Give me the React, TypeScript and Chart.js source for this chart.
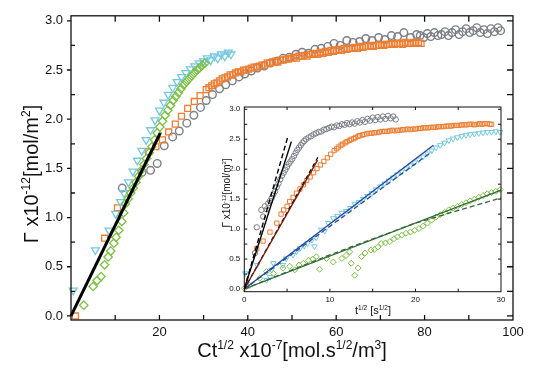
import React, { useEffect, useRef } from 'react';
import { Chart, registerables } from 'chart.js';
Chart.register(...registerables);

const FONT = '"Liberation Sans", Arial, Helvetica, sans-serif';

// ---------- tick labels ----------
const mainXTicks = [20, 40, 60, 80, 100];
const mainYTicks = [0, 0.5, 1, 1.5, 2, 2.5, 3];
const insetXTicks = [0, 10, 20, 30];
const insetYTicks = [0, 0.5, 1, 1.5, 2, 2.5, 3];

// frame tick marks
const mainBottomMarks = [10, 20, 30, 40, 50, 60, 70, 80, 90];
const mainTopMarks = [10, 20, 30, 40, 50, 60, 70, 80, 90];
const mainLeftMajor = [0, 0.5, 1, 1.5, 2, 2.5, 3];
const mainLeftMinor = [0.25, 0.75, 1.25, 1.75, 2.25, 2.75];
const mainRightMarks = [0, 0.25, 0.5, 0.75, 1, 1.25, 1.5, 1.75, 2, 2.25, 2.5, 2.75, 3];
const insetXMarks = [5, 10, 15, 20, 25];
const insetYMarks = [0.25, 0.5, 0.75, 1, 1.25, 1.5, 1.75, 2, 2.25, 2.5, 2.75, 3];

// ---------- main chart data: Ct^1/2 x1e-7 vs Gamma ----------
const mainGray = [
  [11.6,1.30],[16.1,1.46],[18.0,1.48],[19.5,1.55],[21.1,1.73],[23.0,1.82],[24.5,1.88],[26.2,1.96],[27.8,2.04],[29.3,2.12],
  [30.6,2.19],[32.0,2.25],[33.6,2.31],[35.0,2.35],[36.5,2.39],[38.0,2.43],[39.3,2.46],[40.8,2.49],[42.2,2.52],[43.7,2.54],
  [45.1,2.57],[46.6,2.59],[48.0,2.62],[49.4,2.63],[50.9,2.66],[52.3,2.68],[53.7,2.67],[55.2,2.71],[56.6,2.72],[58.1,2.74],
  [59.5,2.77],[60.9,2.75],[62.4,2.80],[63.8,2.78],[65.3,2.79],[66.7,2.82],[68.1,2.80],[69.6,2.83],[71.0,2.81],[72.5,2.85],
  [73.9,2.84],[75.3,2.88],[76.8,2.83],[78.2,2.86],[79.0,2.85],[79.8,2.83],[80.6,2.87],[81.4,2.84],[82.2,2.88],[83.0,2.85],
  [83.8,2.86],[84.6,2.89],[85.4,2.85],[86.2,2.88],[87.0,2.91],[87.8,2.86],[88.6,2.89],[89.4,2.92],[90.2,2.88],[91.0,2.90],
  [91.8,2.93],[92.6,2.88],[93.4,2.91],[94.2,2.87],[95.0,2.92],[95.8,2.89],[96.6,2.93],[97.2,2.90]
];
const mainOrange = [
  [1.0,0.00],[7.6,0.79],[10.5,1.10],[17.6,1.67],[19.2,1.72],[20.7,1.79],[22.1,1.87],[23.6,1.95],[25.0,2.03],[26.4,2.11],
  [27.9,2.18],[29.2,2.24],[30.6,2.30],[31.2,2.32],[31.8,2.34],[32.4,2.36],[33.0,2.37],[33.6,2.39],[34.2,2.41],[34.8,2.42],
  [35.4,2.43],[36.0,2.45],[36.6,2.45],[37.2,2.47],[37.8,2.48],[38.4,2.48],[39.0,2.50],[39.6,2.50],[40.2,2.51],[40.8,2.52],
  [41.4,2.53],[42.0,2.53],[42.6,2.54],[43.2,2.55],[43.8,2.55],[44.4,2.57],[45.0,2.57],[45.6,2.58],[46.2,2.59],[46.8,2.58],
  [47.4,2.60],[48.0,2.60],[48.6,2.61],[49.2,2.61],[49.8,2.62],[50.4,2.63],[51.0,2.62],[51.6,2.64],[52.2,2.64],[52.8,2.65],
  [53.4,2.64],[54.0,2.66],[54.6,2.66],[55.2,2.67],[55.8,2.66],[56.4,2.68],[57.0,2.67],[57.6,2.69],[58.2,2.68],[58.8,2.70],
  [59.4,2.69],[60.0,2.70],[60.6,2.71],[61.2,2.70],[61.8,2.72],[62.4,2.71],[63.0,2.72],[63.6,2.72],[64.2,2.73],[64.8,2.72],
  [65.4,2.74],[66.0,2.73],[66.6,2.74],[67.2,2.74],[67.8,2.75],[68.4,2.74],[69.0,2.75],[69.6,2.75],[70.2,2.76],[70.8,2.75],
  [71.4,2.76],[72.0,2.76],[72.6,2.77],[73.2,2.76],[73.8,2.77],[74.4,2.77],[75.0,2.76],[75.6,2.78],[76.2,2.77],[76.8,2.77],
  [77.4,2.78],[78.0,2.77],[78.6,2.78],[79.2,2.77]
];
const mainCyan = [
  [0.5,0.26],[5.5,0.67],[8.6,0.87],[10.1,1.04],[11.2,1.16],[12.0,1.25],[13.0,1.36],[14.0,1.47],[15.0,1.58],[16.0,1.68],
  [17.0,1.79],[18.0,1.89],[19.0,1.99],[20.0,2.09],[21.0,2.17],[22.0,2.25],[23.0,2.32],[24.0,2.38],[25.0,2.43],[26.0,2.47],
  [27.0,2.51],[28.0,2.54],[29.0,2.57],[30.0,2.59],[30.8,2.62],[31.6,2.60],[32.4,2.64],[33.2,2.62],[34.0,2.66],[34.8,2.64],
  [35.6,2.68],[36.2,2.66]
];
const mainGreen = [
  [2.9,0.11],[5.0,0.30],[5.9,0.36],[6.8,0.40],[7.6,0.52],[8.4,0.60],[9.0,0.66],[9.7,0.74],[10.2,0.80],[10.8,0.87],
  [11.5,0.96],[11.9,1.05],[12.3,1.14],[12.9,1.19],[13.5,1.25],[14.1,1.30],[14.7,1.36],[15.3,1.42],[15.9,1.48],[16.5,1.54],
  [17.1,1.60],[17.7,1.66],[18.3,1.72],[18.9,1.79],[19.5,1.86],[20.1,1.92],[20.7,1.98],[21.3,2.04],[21.9,2.09],[22.5,2.14],
  [23.1,2.19],[23.7,2.23],[24.3,2.27],[24.9,2.31],[25.5,2.35],[26.1,2.38],[26.7,2.41],[27.3,2.44],[27.9,2.47],[28.5,2.50],
  [29.1,2.52],[29.7,2.55],[30.3,2.57]
];
const mainFit = [[0, 0], [20.2, 1.86]];

// ---------- inset data: t^1/2 vs Gamma ----------
const insetGray = [
  [1.25,0.60],[1.45,1.03],[2.0,1.32],[2.2,1.21],[2.4,1.38],[2.6,1.33],[2.8,1.43],[3.0,1.47],[3.2,1.52],[3.4,1.58],
  [3.6,1.63],[3.8,1.70],[4.0,1.76],[4.2,1.83],[4.4,1.89],[4.6,1.94],[4.8,1.99],[5.0,2.04],[5.2,2.09],[5.4,2.13],
  [5.6,2.17],[5.8,2.22],[6.0,2.27],[6.2,2.32],[6.4,2.36],[6.6,2.40],[6.8,2.44],[7.0,2.47],[7.2,2.50],[7.5,2.53],
  [7.8,2.55],[8.1,2.58],[8.4,2.60],[8.7,2.62],[9.0,2.63],[9.3,2.66],[9.6,2.67],[9.9,2.69],[10.2,2.71],[10.5,2.70],
  [10.8,2.73],[11.1,2.72],[11.4,2.75],[11.7,2.74],[12.0,2.77],[12.3,2.75],[12.6,2.78],[12.9,2.76],[13.2,2.80],[13.5,2.78],
  [13.8,2.82],[14.1,2.79],[14.4,2.84],[14.7,2.81],[15.0,2.86],[15.3,2.82],[15.6,2.87],[15.9,2.83],[16.2,2.88],[16.5,2.84],
  [16.8,2.89],[17.1,2.85],[17.4,2.88],[17.7,2.83]
];
const insetOrange = [
  [0.3,0.05],[1.45,0.67],[2.2,0.80],[3.0,0.95],[3.8,1.10],[4.3,1.25],[4.6,1.32],[5.0,1.38],[5.3,1.46],[5.7,1.53],
  [6.1,1.60],[6.5,1.67],[6.9,1.74],[7.3,1.81],[7.7,1.87],[8.1,1.94],[8.5,2.01],[8.9,2.07],[9.3,2.13],[9.7,2.19],
  [10.1,2.25],[10.5,2.31],[10.8,2.34],[11.0,2.37],[11.3,2.40],[11.5,2.42],[11.8,2.44],[12.0,2.46],[12.3,2.48],[12.5,2.50],
  [12.8,2.51],[13.0,2.53],[13.3,2.55],[13.5,2.56],[13.8,2.57],[14.0,2.58],[14.3,2.59],[14.6,2.60],[14.9,2.60],[15.2,2.61],
  [15.5,2.61],[15.8,2.62],[16.1,2.63],[16.4,2.63],[16.7,2.63],[17.0,2.64],[17.3,2.65],[17.6,2.64],[17.9,2.65],[18.2,2.65],
  [18.5,2.66],[18.8,2.66],[19.1,2.67],[19.4,2.66],[19.7,2.67],[20.0,2.67],[20.3,2.68],[20.6,2.68],[20.9,2.69],[21.2,2.69],
  [21.5,2.69],[21.8,2.70],[22.1,2.70],[22.4,2.70],[22.7,2.71],[23.0,2.71],[23.3,2.71],[23.6,2.72],[23.9,2.72],[24.2,2.72],
  [24.5,2.73],[24.8,2.73],[25.1,2.73],[25.4,2.74],[25.7,2.74],[26.0,2.74],[26.3,2.75],[26.6,2.75],[26.9,2.74],[27.2,2.75],
  [27.5,2.76],[27.8,2.75],[28.1,2.76],[28.4,2.76],[28.7,2.75],[28.9,2.75]
];
const insetCyan = [
  [0.1,0.26],[1.5,0.40],[2.6,0.15],[3.0,0.20],[3.2,0.32],[3.4,0.43],[4.5,0.40],[4.9,0.51],[5.7,0.57],[6.1,0.63],
  [6.5,0.68],[7.0,0.72],[7.4,0.76],[7.9,0.82],[8.2,0.71],[8.4,0.86],[9.0,0.99],[9.4,0.97],[9.8,1.10],[10.4,1.18],
  [10.9,1.22],[11.4,1.27],[11.9,1.30],[12.4,1.35],[12.9,1.42],[13.4,1.45],[13.9,1.50],[14.4,1.55],[14.9,1.60],[15.4,1.66],
  [15.9,1.71],[16.4,1.76],[16.9,1.81],[17.4,1.86],[17.9,1.91],[18.4,1.96],[18.9,2.01],[19.4,2.06],[19.9,2.11],[20.4,2.16],
  [20.9,2.21],[21.4,2.26],[21.9,2.31],[22.4,2.36],[22.9,2.40],[23.4,2.44],[23.9,2.48],[24.4,2.51],[24.9,2.53],[25.4,2.55],
  [25.9,2.57],[26.4,2.58],[26.9,2.59],[27.4,2.60],[27.9,2.61],[28.4,2.62],[28.9,2.62],[29.4,2.63],[29.9,2.62]
];
const insetGreen = [
  [0.0,0.01],[0.6,0.06],[1.8,0.18],[2.6,0.29],[3.4,0.26],[4.5,0.35],[5.3,0.38],[5.9,0.32],[6.4,0.40],[6.9,0.43],
  [7.5,0.48],[8.0,0.50],[8.4,0.54],[8.8,0.33],[9.6,0.51],[10.4,0.45],[11.4,0.51],[11.9,0.56],[12.3,0.62],[12.5,0.43],
  [12.9,0.23],[13.3,0.35],[13.7,0.54],[14.1,0.60],[14.8,0.65],[15.2,0.66],[15.6,0.70],[16.0,0.76],[16.5,0.77],[17.0,0.79],
  [17.5,0.84],[17.9,0.87],[18.4,0.90],[18.9,0.93],[19.4,0.95],[19.9,0.98],[20.4,1.01],[20.9,1.05],[21.4,1.10],[21.9,1.15],
  [22.4,1.20],[22.9,1.24],[23.4,1.28],[23.9,1.32],[24.4,1.35],[24.9,1.38],[25.4,1.41],[25.9,1.44],[26.4,1.47],[26.9,1.50],
  [27.4,1.53],[27.9,1.56],[28.4,1.59],[28.9,1.61],[29.4,1.63],[29.9,1.66]
];
const insetBlackDash = [[0, 0], [5.06, 2.53]];
const insetBlackSolid = [[0, 0], [5.5, 2.46]];
const insetRedDash = [[0, 0], [8.6, 2.2]];
const insetRedSolid = [[0, 0], [8.56, 2.15]];
const insetBlueSolid = [[0, 0], [22.1, 2.4]];
const insetBlueDash = [[0, 0], [21.9, 2.29]];
const insetGreenSolid = [[0, 0], [30, 1.65]];
const insetGreenDash = [[0, 0], [10, 0.57], [20, 1.1], [30, 1.52]];

// ---------- colours ----------
const GRAY = '#7b7e86';
const ORANGE = '#ee7d31';
const CYAN = '#74c7e0';
const GREEN = '#7cbf45';

type Part = { t: string; sup?: boolean };
type TitleSpec = { parts: Part[]; x: number; y: number; size: number; rotate: boolean };
type Marks = { side: 'top' | 'bottom' | 'left' | 'right'; values: number[]; len: number; inward: boolean };

function drawRich(ctx: CanvasRenderingContext2D, t: TitleSpec) {
  const sup = t.size * 0.6;
  const widths = t.parts.map((p) => {
    ctx.font = `${p.sup ? sup : t.size}px ${FONT}`;
    return ctx.measureText(p.t).width;
  });
  const total = widths.reduce((a, b) => a + b, 0);
  ctx.save();
  ctx.translate(t.x, t.y);
  if (t.rotate) ctx.rotate(-Math.PI / 2);
  ctx.fillStyle = '#111';
  ctx.textAlign = 'left';
  ctx.textBaseline = 'alphabetic';
  let xp = -total / 2;
  t.parts.forEach((p, i) => {
    ctx.font = `${p.sup ? sup : t.size}px ${FONT}`;
    ctx.fillText(p.t, xp, p.sup ? -t.size * 0.4 : 0);
    xp += widths[i];
  });
  ctx.restore();
}

function framePlugin(id: string, lw: number, marks: Marks[], titles: TitleSpec[]) {
  return {
    id,
    afterDraw(chart: any) {
      const ctx: CanvasRenderingContext2D = chart.ctx;
      const { left, top, right, bottom } = chart.chartArea;
      const xs = chart.scales.x;
      const ys = chart.scales.y;
      ctx.save();
      ctx.strokeStyle = '#111';
      ctx.lineWidth = lw;
      ctx.strokeRect(left, top, right - left, bottom - top);
      ctx.beginPath();
      for (const m of marks) {
        for (const v of m.values) {
          if (m.side === 'bottom' || m.side === 'top') {
            const px = xs.getPixelForValue(v);
            const base = m.side === 'bottom' ? bottom : top;
            const dir = (m.side === 'bottom' ? -1 : 1) * (m.inward ? 1 : -1);
            ctx.moveTo(px, base);
            ctx.lineTo(px, base + dir * m.len);
          } else {
            const py = ys.getPixelForValue(v);
            const base = m.side === 'left' ? left : right;
            const dir = (m.side === 'left' ? 1 : -1) * (m.inward ? 1 : -1);
            ctx.moveTo(base, py);
            ctx.lineTo(base + dir * m.len, py);
          }
        }
      }
      ctx.stroke();
      titles.forEach((t) => drawRich(ctx, t));
      ctx.restore();
    },
  };
}

const pts = (arr: number[][]) => arr.map(([x, y]) => ({ x, y }));

function markers(arr: number[][], style: string, color: string, radius: number, width: number, rotation = 0) {
  return {
    data: pts(arr),
    pointStyle: style,
    pointRadius: radius,
    pointHoverRadius: radius,
    pointRotation: rotation,
    pointBorderColor: color,
    pointBackgroundColor: 'rgba(0,0,0,0)',
    pointBorderWidth: width,
    borderColor: color,
    backgroundColor: 'rgba(0,0,0,0)',
    showLine: false,
    clip: false,
  };
}

function fitLine(arr: number[][], color: string, width: number, dash: number[] = []) {
  return {
    data: pts(arr),
    showLine: true,
    borderColor: color,
    borderWidth: width,
    borderDash: dash,
    pointRadius: 0,
    pointHoverRadius: 0,
    fill: false,
    clip: false,
  };
}

function scales(
  xmin: number, xmax: number, ymin: number, ymax: number,
  xt: number[], yt: number[], size: number, xpad: number, ypad: number,
  yWidth: number, xHeight: number
) {
  const tickFont = { family: FONT, size };
  return {
    x: {
      type: 'linear', position: 'bottom', min: xmin, max: xmax,
      afterBuildTicks: (s: any) => { s.ticks = xt.map((v) => ({ value: v })); },
      afterFit: (s: any) => { s.height = xHeight; },
      grid: { display: false, drawTicks: false },
      border: { display: false },
      ticks: { font: tickFont, color: '#111', padding: xpad, maxRotation: 0, autoSkip: false, callback: (v: any) => String(v) },
    },
    y: {
      type: 'linear', position: 'left', min: ymin, max: ymax,
      afterBuildTicks: (s: any) => { s.ticks = yt.map((v) => ({ value: v })); },
      afterFit: (s: any) => { s.width = yWidth; },
      grid: { display: false, drawTicks: false },
      border: { display: false },
      ticks: { font: tickFont, color: '#111', padding: ypad, autoSkip: false, callback: (v: any) => Number(v).toFixed(1) },
    },
  };
}

export default function App() {
  const mainRef = useRef<HTMLCanvasElement>(null);
  const insetRef = useRef<HTMLCanvasElement>(null);

  useEffect(() => {
    const mainPlugin = framePlugin('mainFrame', 1.3, [
      { side: 'bottom', values: mainBottomMarks, len: 5, inward: true },
      { side: 'top', values: mainTopMarks, len: 6, inward: true },
      { side: 'left', values: mainLeftMajor, len: 4, inward: false },
      { side: 'left', values: mainLeftMinor, len: 4, inward: true },
      { side: 'right', values: mainRightMarks, len: 6, inward: true },
    ], [
      { parts: [{ t: 'Ct' }, { t: '1/2', sup: true }, { t: ' x10' }, { t: '-7', sup: true }, { t: '[mol.s' }, { t: '1/2', sup: true }, { t: '/m' }, { t: '3', sup: true }, { t: ']' }], x: 292, y: 357, size: 20, rotate: false },
      { parts: [{ t: 'Γ x10' }, { t: '-12', sup: true }, { t: '[mol/m' }, { t: '2', sup: true }, { t: ']' }], x: 38, y: 174, size: 20, rotate: true },
    ]);

    const main = new Chart(mainRef.current as HTMLCanvasElement, {
      type: 'scatter',
      data: {
        datasets: [
          fitLine(mainFit, '#000', 3),
          markers(mainGreen, 'rectRot', GREEN, 4.2, 1.3),
          markers(mainCyan, 'triangle', CYAN, 4.5, 1.3, 180),
          markers(mainOrange, 'rect', ORANGE, 4.2, 1.3),
          markers(mainGray, 'circle', GRAY, 3.8, 1.4),
        ] as any,
      },
      options: {
        responsive: false,
        animation: false,
        events: [],
        layout: { padding: { left: 0, top: 15, right: 21, bottom: 0 } },
        plugins: { legend: { display: false }, tooltip: { enabled: false } },
        scales: scales(0, 100, -0.041, 3.051, mainXTicks, mainYTicks, 13, 5, 8, 71, 53) as any,
      },
      plugins: [mainPlugin],
    } as any);

    const insetPlugin = framePlugin('insetFrame', 1, [
      { side: 'bottom', values: insetXMarks, len: 3, inward: true },
      { side: 'top', values: insetXMarks, len: 3, inward: true },
      { side: 'left', values: insetYMarks, len: 3, inward: true },
      { side: 'right', values: insetYMarks, len: 3, inward: true },
    ], [
      { parts: [{ t: 't' }, { t: '1/2', sup: true }, { t: ' [s' }, { t: '1/2', sup: true }, { t: ']' }], x: 173, y: 219, size: 11, rotate: false },
      { parts: [{ t: 'Γ x10' }, { t: '-12', sup: true }, { t: '[mol/m' }, { t: '2', sup: true }, { t: ']' }], x: 30, y: 98, size: 10, rotate: true },
    ]);

    const inset = new Chart(insetRef.current as HTMLCanvasElement, {
      type: 'scatter',
      data: {
        datasets: [
          fitLine(insetBlackDash, '#000', 1.4, [5, 3]),
          fitLine(insetBlackSolid, '#000', 1.4),
          fitLine(insetRedSolid, '#701c12', 1.4),
          fitLine(insetRedDash, '#000', 1.2, [4, 3]),
          fitLine(insetBlueSolid, '#2343a0', 1.3),
          fitLine(insetBlueDash, '#2a4f8f', 1.3, [5, 3]),
          fitLine(insetGreenSolid, '#2f6b35', 1.3),
          fitLine(insetGreenDash, '#33663a', 1.3, [5, 3]),
          markers(insetGreen, 'rectRot', GREEN, 3, 1),
          markers(insetCyan, 'triangle', CYAN, 3.2, 1, 180),
          markers(insetOrange, 'rect', ORANGE, 3, 1),
          markers(insetGray, 'circle', GRAY, 2.7, 1),
        ] as any,
      },
      options: {
        responsive: false,
        animation: false,
        events: [],
        layout: { padding: { left: 0, top: 12, right: 14, bottom: 0 } },
        plugins: { legend: { display: false }, tooltip: { enabled: false } },
        scales: scales(0, 30, -0.045, 3.038, insetXTicks, insetYTicks, 8, 3, 4, 44.3, 33.3) as any,
      },
      plugins: [insetPlugin],
    } as any);

    return () => {
      main.destroy();
      inset.destroy();
    };
  }, []);

  return (
    <div style={{ position: 'absolute', left: 0, top: 0, width: 534, height: 373, background: '#fff', overflow: 'hidden' }}>
      <canvas ref={mainRef} width={534} height={373} style={{ position: 'absolute', left: 0, top: 0, width: 534, height: 373 }} />
      <canvas ref={insetRef} width={315} height={230} style={{ position: 'absolute', left: 200, top: 95, width: 315, height: 230 }} />
    </div>
  );
}
